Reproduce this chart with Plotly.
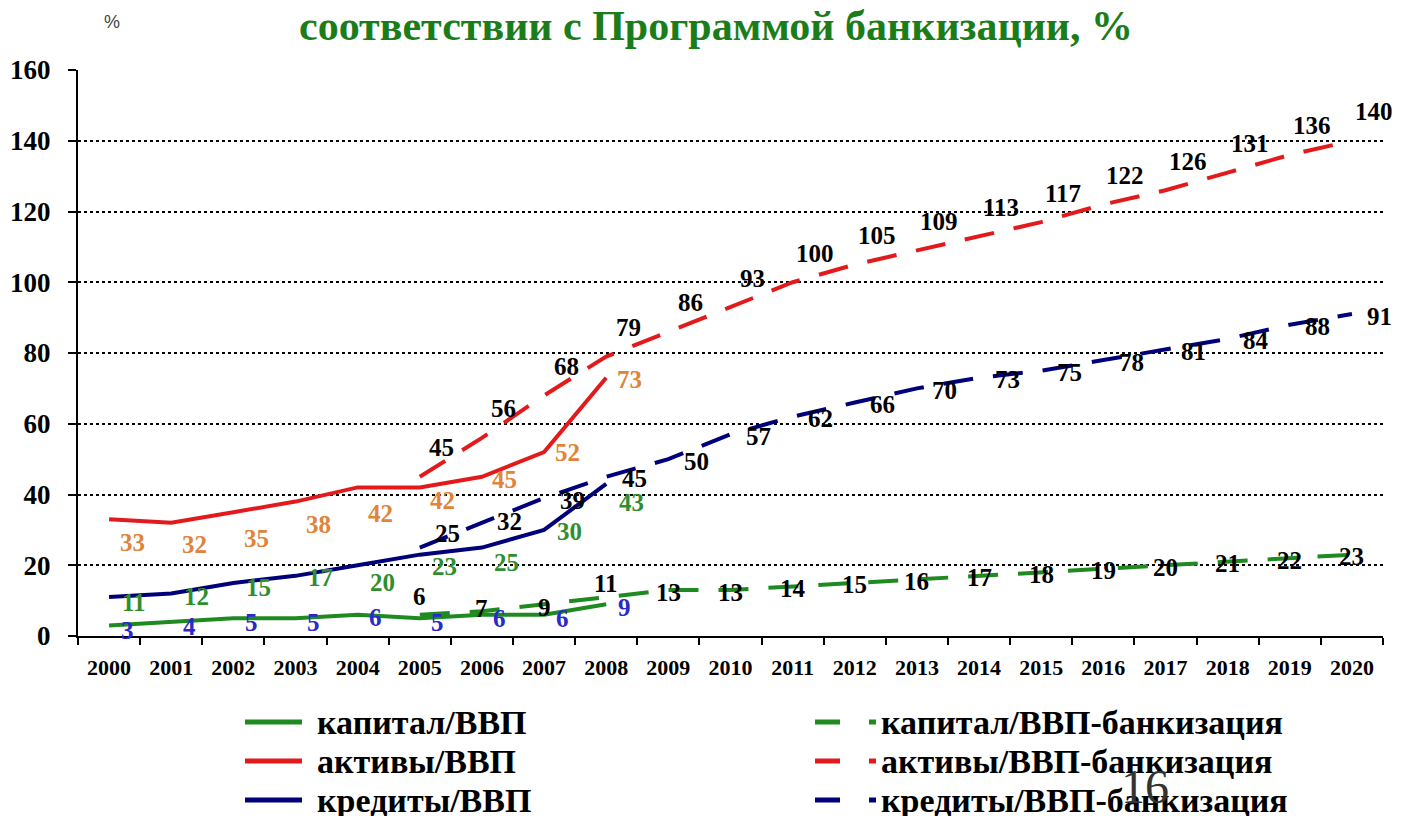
import plotly.graph_objects as go

YEARS = [str(y) for y in range(2000, 2021)]
ACT_YEARS = YEARS[:9]          # 2000-2008
PLAN_YEARS = YEARS[5:]         # 2005-2020

assets_gdp = [33, 32, 35, 38, 42, 42, 45, 52, 73]
loans_gdp = [11, 12, 15, 17, 20, 23, 25, 30, 43]
capital_gdp = [3, 4, 5, 5, 6, 5, 6, 6, 9]

assets_plan = [45, 56, 68, 79, 86, 93, 100, 105, 109, 113, 117, 122, 126, 131, 136, 140]
loans_plan = [25, 32, 39, 45, 50, 57, 62, 66, 70, 73, 75, 78, 81, 84, 88, 91]
capital_plan = [6, 7, 9, 11, 13, 13, 14, 15, 16, 17, 18, 19, 20, 21, 22, 23]

NAMES = ["капитал/ВВП", "активы/ВВП", "кредиты/ВВП"]
PLAN_SUFFIX = "-банкизация"

GREEN = "#1f8a1f"
RED = "#e31a1c"
NAVY = "#00007a"
FONT = "Liberation Serif, Times New Roman, serif"

# label styling (pixel offsets for readability)
STYLE = {
    "assets_act": dict(color="#e0843a", dx=23, dy=[-23, -22, -26, -23, -26, -13, -3, 0, -2]),
    "loans_act": dict(color="#2f8f2f", dx=25, dy=[-5, -3, -5, -2, -17, -12, -15, -2, -19]),
    "capital_act": dict(color="#2a2ac8", dx=18, dy=[-5, -5, -4, -4, -3, -4, -4, -4, -3]),
    "assets_plan": dict(color="black", dx=22, dy=[29] * 16),
    "loans_plan": dict(color="black", dx=28, dy=[14, 1] + [-2] * 14),
    "capital_plan": dict(color="black", dx=0, dy=[18, 3, -3, 14] + [-2] * 12),
}

DASH = "30px,20px"

fig = go.Figure()

series = [
    ("capital_act", ACT_YEARS, capital_gdp, GREEN, "solid", NAMES[0]),
    ("assets_act", ACT_YEARS, assets_gdp, RED, "solid", NAMES[1]),
    ("loans_act", ACT_YEARS, loans_gdp, NAVY, "solid", NAMES[2]),
    ("capital_plan", PLAN_YEARS, capital_plan, GREEN, DASH, NAMES[0] + PLAN_SUFFIX),
    ("assets_plan", PLAN_YEARS, assets_plan, RED, DASH, NAMES[1] + PLAN_SUFFIX),
    ("loans_plan", PLAN_YEARS, loans_plan, NAVY, DASH, NAMES[2] + PLAN_SUFFIX),
]

annotations = []
for key, xs, ys, color, dash, name in series:
    fig.add_trace(go.Scatter(
        x=xs, y=ys, mode="lines", name=name,
        line=dict(color=color, width=4, dash=dash),
        showlegend=False, hoverinfo="skip",
    ))
    st = STYLE[key]
    for i, (xv, yv) in enumerate(zip(xs, ys)):
        annotations.append(dict(
            x=YEARS.index(xv), y=yv, xref="x", yref="y", text=str(yv), showarrow=False,
            xshift=st["dx"], yshift=st["dy"][i],
            font=dict(family=FONT, size=25, color=st["color"], weight="bold"),
        ))

# page is drawn with an 8px body margin; work in page pixels
OFF = 8
W, H = 1403 - OFF, 816 - OFF
L, R, T, B = 78 - OFF, 20, 70 - OFF, 180
pw, ph = W - L - R, H - T - B


def px_x(x):
    return (x - OFF - L) / pw


def px_y(y):
    return (H - B - (y - OFF)) / ph


# manual legend (two columns, three rows)
legend_rows = [(NAMES[0], GREEN), (NAMES[1], RED), (NAMES[2], NAVY)]
shapes = []
row_y = [722, 761, 800]
LEG_FONT = dict(family=FONT, size=34, color="black", weight="bold")

for (name, color), yy in zip(legend_rows, row_y):
    shapes.append(dict(type="line", xref="paper", yref="paper",
                       x0=px_x(245), x1=px_x(302), y0=px_y(yy), y1=px_y(yy),
                       line=dict(color=color, width=5)))
    annotations.append(dict(x=px_x(315), y=px_y(yy), xref="paper", yref="paper",
                            text=name, showarrow=False, xanchor="left", yanchor="middle",
                            font=LEG_FONT))
    shapes.append(dict(type="line", xref="paper", yref="paper",
                       x0=px_x(815), x1=px_x(840), y0=px_y(yy), y1=px_y(yy),
                       line=dict(color=color, width=5)))
    shapes.append(dict(type="line", xref="paper", yref="paper",
                       x0=px_x(869), x1=px_x(876), y0=px_y(yy), y1=px_y(yy),
                       line=dict(color=color, width=5)))
    annotations.append(dict(x=px_x(879), y=px_y(yy), xref="paper", yref="paper",
                            text=name + PLAN_SUFFIX, showarrow=False, xanchor="left",
                            yanchor="middle", font=LEG_FONT))

# title, unit and slide number
annotations.append(dict(x=px_x(716), y=px_y(26), xref="paper", yref="paper",
                        text="соответствии с Программой банкизации, %", showarrow=False,
                        xanchor="center", yanchor="middle",
                        font=dict(family=FONT, size=42, color="#1a7d1a", weight="bold")))
annotations.append(dict(x=px_x(112), y=px_y(22), xref="paper", yref="paper",
                        text="%", showarrow=False, xanchor="center", yanchor="middle",
                        font=dict(family="Liberation Sans, Arial, sans-serif", size=18,
                                  color="#444444")))
annotations.append(dict(x=px_x(1145), y=px_y(786), xref="paper", yref="paper",
                        text="16", showarrow=False, xanchor="center", yanchor="middle",
                        font=dict(family=FONT, size=48, color="#333333")))

fig.update_layout(
    width=W, height=H,
    margin=dict(l=L, r=R, t=T, b=B, autoexpand=False),
    paper_bgcolor="white", plot_bgcolor="white",
    showlegend=False,
    annotations=annotations,
    shapes=shapes,
    xaxis=dict(
        type="category", categoryorder="array", categoryarray=YEARS,
        range=[-0.5, 20.5], tickson="boundaries", automargin=False,
        ticks="outside", ticklen=7, tickwidth=2, tickcolor="black",
        showline=True, linecolor="black", linewidth=2,
        showgrid=False, ticklabelstandoff=11,
        tickfont=dict(family=FONT, size=22, color="black", weight="bold"),
    ),
    yaxis=dict(
        range=[0, 160], dtick=20, tick0=0, automargin=False,
        ticks="outside", ticklen=8, tickwidth=2, tickcolor="black",
        showline=True, linecolor="black", linewidth=2,
        showgrid=True, gridcolor="black", gridwidth=1.5, griddash="dot",
        zeroline=False, ticklabelstandoff=12,
        tickfont=dict(family=FONT, size=27, color="black", weight="bold"),
    ),
)

fig.write_html("out.html")
